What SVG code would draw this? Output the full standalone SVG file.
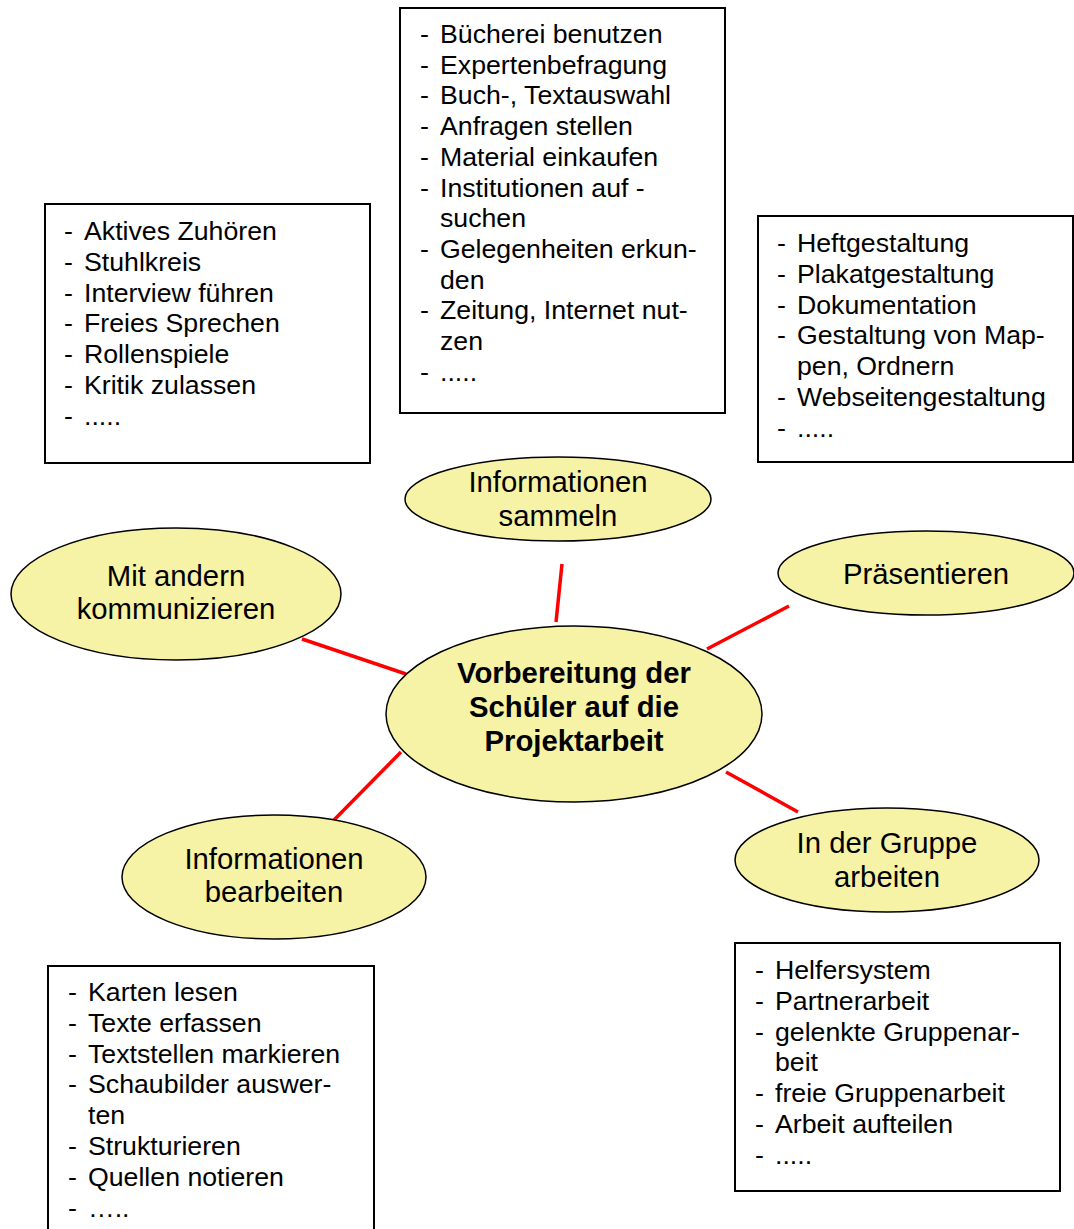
<svg xmlns="http://www.w3.org/2000/svg" width="1074" height="1229" viewBox="0 0 1074 1229">
<style>
.box{fill:#fff;stroke:#000;stroke-width:2}
.ell{fill:#f7f3a6;stroke:#000;stroke-width:1.5}
.li{font-family:"Liberation Sans",Arial,sans-serif;font-size:26.7px;fill:#000}
.et{font-family:"Liberation Sans",Arial,sans-serif;font-size:29.3px;fill:#000;text-anchor:middle}
.ctr{font-weight:bold}
.con{stroke:#f00;stroke-width:3.5;fill:none}
</style>
<rect width="1074" height="1229" fill="#fff"/>
<g id="connectors">
<line class="con" x1="556" y1="622" x2="562" y2="564"/>
<line class="con" x1="707" y1="649" x2="789" y2="606"/>
<line class="con" x1="302" y1="639" x2="406" y2="674"/>
<line class="con" x1="333" y1="821" x2="401" y2="752"/>
<line class="con" x1="726" y1="772" x2="798" y2="812"/>
</g>
<g id="box-kommunizieren">
<rect class="box" x="45" y="204" width="325" height="259"/>
<text class="li"><tspan x="64" y="240">-</tspan><tspan x="84" y="240">Aktives Zuhören</tspan><tspan x="64" y="270.8">-</tspan><tspan x="84" y="270.8">Stuhlkreis</tspan><tspan x="64" y="301.6">-</tspan><tspan x="84" y="301.6">Interview führen</tspan><tspan x="64" y="332.4">-</tspan><tspan x="84" y="332.4">Freies Sprechen</tspan><tspan x="64" y="363.2">-</tspan><tspan x="84" y="363.2">Rollenspiele</tspan><tspan x="64" y="394">-</tspan><tspan x="84" y="394">Kritik zulassen</tspan><tspan x="64" y="424.8">-</tspan><tspan x="84" y="424.8">.....</tspan></text>
</g>
<g id="box-sammeln">
<rect class="box" x="400" y="8" width="325" height="405"/>
<text class="li"><tspan x="420" y="43">-</tspan><tspan x="440" y="43">Bücherei benutzen</tspan><tspan x="420" y="73.7">-</tspan><tspan x="440" y="73.7">Expertenbefragung</tspan><tspan x="420" y="104.4">-</tspan><tspan x="440" y="104.4">Buch-, Textauswahl</tspan><tspan x="420" y="135.1">-</tspan><tspan x="440" y="135.1">Anfragen stellen</tspan><tspan x="420" y="165.8">-</tspan><tspan x="440" y="165.8">Material einkaufen</tspan><tspan x="420" y="196.5">-</tspan><tspan x="440" y="196.5">Institutionen auf -</tspan><tspan x="440" y="227.2">suchen</tspan><tspan x="420" y="257.9">-</tspan><tspan x="440" y="257.9">Gelegenheiten erkun-</tspan><tspan x="440" y="288.6">den</tspan><tspan x="420" y="319.3">-</tspan><tspan x="440" y="319.3">Zeitung, Internet nut-</tspan><tspan x="440" y="350">zen</tspan><tspan x="420" y="380.7">-</tspan><tspan x="440" y="380.7">.....</tspan></text>
</g>
<g id="box-praesentieren">
<rect class="box" x="758" y="216" width="315" height="246"/>
<text class="li"><tspan x="777" y="252">-</tspan><tspan x="797" y="252">Heftgestaltung</tspan><tspan x="777" y="282.8">-</tspan><tspan x="797" y="282.8">Plakatgestaltung</tspan><tspan x="777" y="313.6">-</tspan><tspan x="797" y="313.6">Dokumentation</tspan><tspan x="777" y="344.4">-</tspan><tspan x="797" y="344.4">Gestaltung von Map-</tspan><tspan x="797" y="375.2">pen, Ordnern</tspan><tspan x="777" y="406">-</tspan><tspan x="797" y="406">Webseitengestaltung</tspan><tspan x="777" y="436.8">-</tspan><tspan x="797" y="436.8">.....</tspan></text>
</g>
<g id="box-bearbeiten">
<rect class="box" x="48" y="966" width="326" height="275"/>
<text class="li"><tspan x="68" y="1001">-</tspan><tspan x="88" y="1001">Karten lesen</tspan><tspan x="68" y="1031.8">-</tspan><tspan x="88" y="1031.8">Texte erfassen</tspan><tspan x="68" y="1062.6">-</tspan><tspan x="88" y="1062.6">Textstellen markieren</tspan><tspan x="68" y="1093.4">-</tspan><tspan x="88" y="1093.4">Schaubilder auswer-</tspan><tspan x="88" y="1124.2">ten</tspan><tspan x="68" y="1155">-</tspan><tspan x="88" y="1155">Strukturieren</tspan><tspan x="68" y="1185.8">-</tspan><tspan x="88" y="1185.8">Quellen notieren</tspan><tspan x="68" y="1216.6">-</tspan><tspan x="88" y="1216.6">…..</tspan></text>
</g>
<g id="box-gruppe">
<rect class="box" x="735" y="943" width="325" height="248"/>
<text class="li"><tspan x="755" y="979">-</tspan><tspan x="775" y="979">Helfersystem</tspan><tspan x="755" y="1009.8">-</tspan><tspan x="775" y="1009.8">Partnerarbeit</tspan><tspan x="755" y="1040.6">-</tspan><tspan x="775" y="1040.6">gelenkte Gruppenar-</tspan><tspan x="775" y="1071.4">beit</tspan><tspan x="755" y="1102.2">-</tspan><tspan x="775" y="1102.2">freie Gruppenarbeit</tspan><tspan x="755" y="1133">-</tspan><tspan x="775" y="1133">Arbeit aufteilen</tspan><tspan x="755" y="1163.8">-</tspan><tspan x="775" y="1163.8">.....</tspan></text>
</g>
<g id="node-sammeln">
<ellipse class="ell" cx="558" cy="499" rx="153" ry="42"/>
<text class="et"><tspan x="558" y="492">Informationen</tspan><tspan x="558" y="526">sammeln</tspan></text>
</g>
<g id="node-kommunizieren">
<ellipse class="ell" cx="176" cy="594" rx="165" ry="66"/>
<text class="et"><tspan x="176" y="586">Mit andern</tspan><tspan x="176" y="619">kommunizieren</tspan></text>
</g>
<g id="node-praesentieren">
<ellipse class="ell" cx="926" cy="573" rx="148" ry="42"/>
<text class="et"><tspan x="926" y="584">Präsentieren</tspan></text>
</g>
<g id="node-center">
<ellipse class="ell" cx="574" cy="714" rx="188" ry="88"/>
<text class="et ctr"><tspan x="574" y="683">Vorbereitung der</tspan><tspan x="574" y="717">Schüler auf die</tspan><tspan x="574" y="751">Projektarbeit</tspan></text>
</g>
<g id="node-bearbeiten">
<ellipse class="ell" cx="274" cy="877" rx="152" ry="62"/>
<text class="et"><tspan x="274" y="869">Informationen</tspan><tspan x="274" y="902">bearbeiten</tspan></text>
</g>
<g id="node-gruppe">
<ellipse class="ell" cx="887" cy="860" rx="152" ry="52"/>
<text class="et"><tspan x="887" y="853">In der Gruppe</tspan><tspan x="887" y="887">arbeiten</tspan></text>
</g>
</svg>
